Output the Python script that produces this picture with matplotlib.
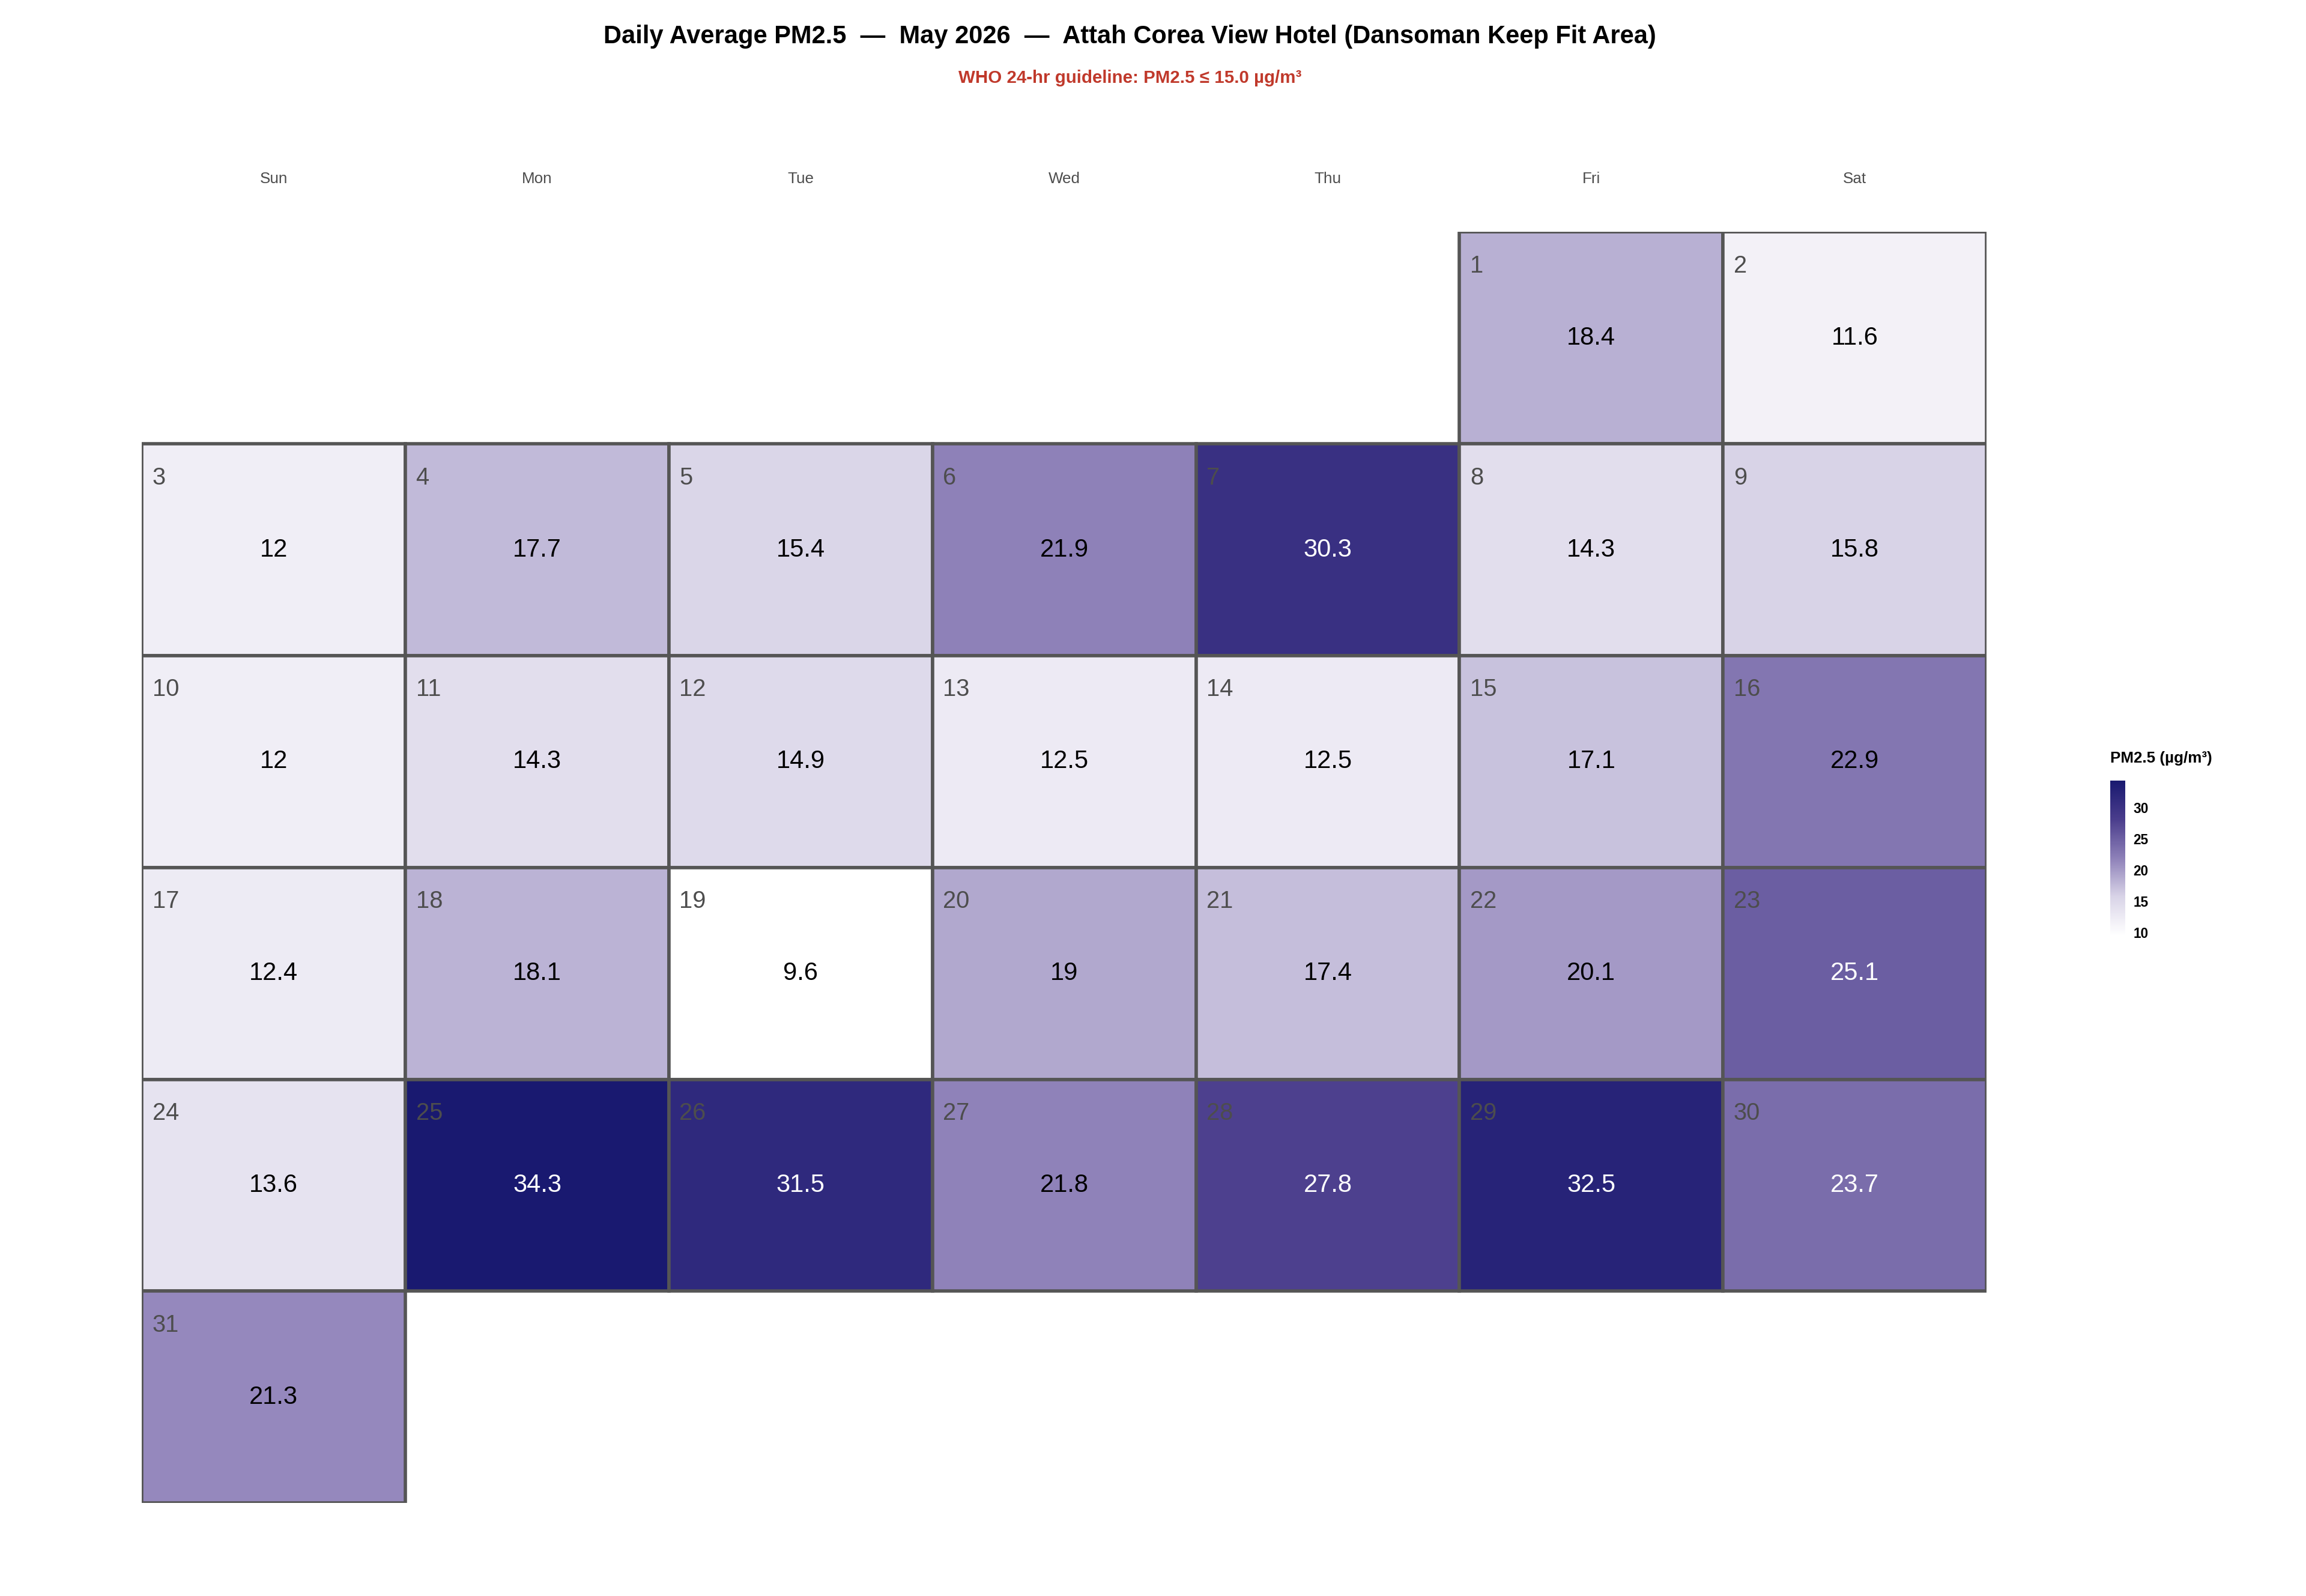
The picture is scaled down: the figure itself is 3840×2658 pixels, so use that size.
import numpy as np
import matplotlib.pyplot as plt
from matplotlib.colors import LinearSegmentedColormap, Normalize
from matplotlib.patches import Rectangle

plt.rcParams['font.family'] = ['Liberation Sans', 'DejaVu Sans']

# data
days = list(range(1, 32))
pm25 = [18.4, 11.6, 12.0, 17.7, 15.4, 21.9, 30.3, 14.3, 15.8, 12.0,
        14.3, 14.9, 12.5, 12.5, 17.1, 22.9, 12.4, 18.1, 9.6, 19.0,
        17.4, 20.1, 25.1, 13.6, 34.3, 31.5, 21.8, 27.8, 32.5, 23.7, 21.3]
weekdays = ['Sun', 'Mon', 'Tue', 'Wed', 'Thu', 'Fri', 'Sat']
first_weekday = 5  # May 1 2026 is a Friday

cmap = LinearSegmentedColormap.from_list('pm', ['#ffffff', '#d8d3e7', '#8d80b8', '#4a3d8c', '#191970'])
norm = Normalize(vmin=min(pm25), vmax=max(pm25))

fig = plt.figure(figsize=(15.36, 10.632), dpi=250)
ax = fig.add_axes([0.0615, 0.0583, 0.8, 0.7963])
ax.set_xlim(0, 7)
ax.set_ylim(6, 0)
ax.axis('off')

for d, v in zip(days, pm25):
    pos = first_weekday + d - 1
    col, row = pos % 7, pos // 7
    ax.add_patch(Rectangle((col, row), 1, 1, facecolor=cmap(norm(v)),
                           edgecolor='#555555', linewidth=1.6, zorder=2))
    ax.text(col + 0.04, row + 0.16, str(d), ha='left', va='center',
            fontsize=11.5, color='#4d4d4d', zorder=3)
    ax.text(col + 0.5, row + 0.5, f'{v:g}', ha='center', va='center',
            fontsize=12, color='white' if v > 23 else 'black', zorder=3)

for i, name in enumerate(weekdays):
    ax.text(i + 0.5, -0.25, name, ha='center', va='center', fontsize=7.5, color='#4d4d4d')

fig.text(0.49, 0.977, 'Daily Average PM2.5  \u2014  May 2026  \u2014  Attah Corea View Hotel (Dansoman Keep Fit Area)',
         ha='center', va='center', fontsize=12, fontweight='bold')
fig.text(0.49, 0.951, 'WHO 24-hr guideline: PM2.5 \u2264 15.0 \u00b5g/m\u00b3',
         ha='center', va='center', fontsize=8.5, fontweight='bold', color='#c0392b')

cax = fig.add_axes([0.915, 0.414, 0.0065, 0.097])
sm = plt.cm.ScalarMappable(norm=norm, cmap=cmap)
cb = fig.colorbar(sm, cax=cax, ticks=[10, 15, 20, 25, 30])
cb.outline.set_visible(False)
cb.ax.tick_params(length=2, color='white', labelsize=6.5, pad=2)
for t in cb.ax.get_yticklabels():
    t.set_fontweight('bold')
fig.text(0.915, 0.525, 'PM2.5 (\u00b5g/m\u00b3)', ha='left', va='center', fontsize=7.5, fontweight='bold')

fig.savefig('out.png', dpi=250, facecolor='white')
